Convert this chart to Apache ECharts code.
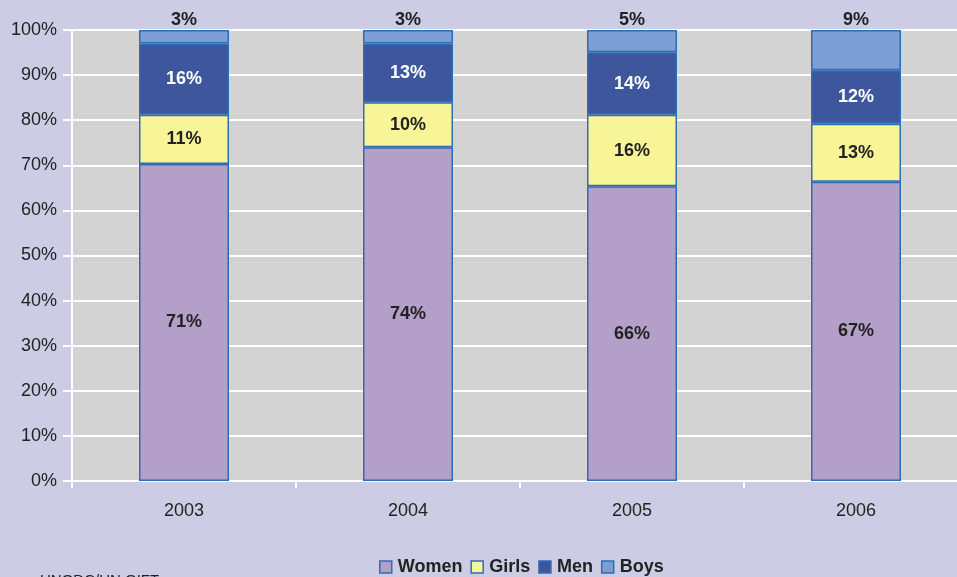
<!DOCTYPE html>
<html>
<head>
<meta charset="utf-8">
<script src="https://cdn.jsdelivr.net/npm/echarts@6/dist/echarts.min.js"></script>
<style>
  html, body { margin: 0; padding: 0; background: #cccce5; }
  #main { width: 957px; height: 577px; }
</style>
</head>
<body>
<div id="main"></div>
<script>
var years = ['2003', '2004', '2005', '2006'];
var women = [71, 74, 66, 67];
var girls = [11, 10, 16, 13];
var men = [16, 13, 14, 12];
var boys = [3, 3, 5, 9];
var yTicks = [0, 10, 20, 30, 40, 50, 60, 70, 80, 90, 100];

// 100% stacked: share of each year's total
function share(arr) {
    return arr.map(function (v, i) {
        var total = women[i] + girls[i] + men[i] + boys[i];
        return { value: v / total * 100, raw: v };
    });
}

function makeSeries(name, arr, color, labelColor, pos) {
    return {
        name: name,
        type: 'bar',
        stack: 'all',
        barWidth: 90,
        data: share(arr),
        itemStyle: { color: color, borderColor: '#2f6db3', borderWidth: 1.5 },
        label: {
            show: true,
            position: pos,
            distance: 1,
            color: labelColor,
            fontFamily: 'Liberation Sans, Arial',
            fontWeight: 'bold',
            fontSize: 18,
            formatter: function (p) { return p.data.raw + '%'; }
        }
    };
}

var option = {
    backgroundColor: '#cccce5',
    animation: false,
    textStyle: { fontFamily: 'Liberation Sans, Arial' },
    grid: {
        left: 72, top: 30, width: 896, height: 451,
        outerBoundsMode: 'none',
        backgroundColor: '#d3d3d3', show: true, borderWidth: 0
    },
    legend: {
        top: 553,
        left: 374,
        itemWidth: 12,
        itemHeight: 12,
        itemGap: 8,
        icon: 'rect',
        data: ['Women', 'Girls', 'Men', 'Boys'],
        textStyle: { fontSize: 18, fontWeight: 'bold', color: '#222', padding: [0, 0, 0, 1] },
        itemStyle: { borderColor: '#2f6db3', borderWidth: 1.5 }
    },
    xAxis: {
        type: 'category',
        data: years,
        axisLine: { lineStyle: { color: '#ffffff', width: 2 } },
        axisTick: { show: true, length: 7, lineStyle: { color: '#ffffff', width: 2 } },
        axisLabel: { color: '#222', fontSize: 18, margin: 21 }
    },
    yAxis: {
        type: 'value',
        min: 0,
        max: 100,
        interval: 10,
        axisLine: { show: true, lineStyle: { color: '#ffffff', width: 2 } },
        axisTick: { show: true, length: 9, lineStyle: { color: '#ffffff', width: 2 } },
        axisLabel: {
            color: '#222',
            fontSize: 18,
            margin: 15,
            formatter: function (v) { return yTicks.indexOf(v) >= 0 ? v + '%' : ''; }
        },
        splitLine: { lineStyle: { color: '#ffffff', width: 2 } }
    },
    graphic: [{
        type: 'text',
        left: 40,
        top: 573,
        style: { text: 'UNODC/UN.GIFT', fill: '#222', font: '15px Liberation Sans, Arial' }
    }],
    series: [
        makeSeries('Women', women, '#b49fc9', '#222', 'inside'),
        makeSeries('Girls', girls, '#f8f598', '#222', 'inside'),
        makeSeries('Men', men, '#3e569c', '#ffffff', 'inside'),
        makeSeries('Boys', boys, '#7b9fd4', '#222', 'top')
    ]
};

var myChart = echarts.init(document.getElementById('main'));
myChart.setOption(option);
</script>
</body>
</html>
